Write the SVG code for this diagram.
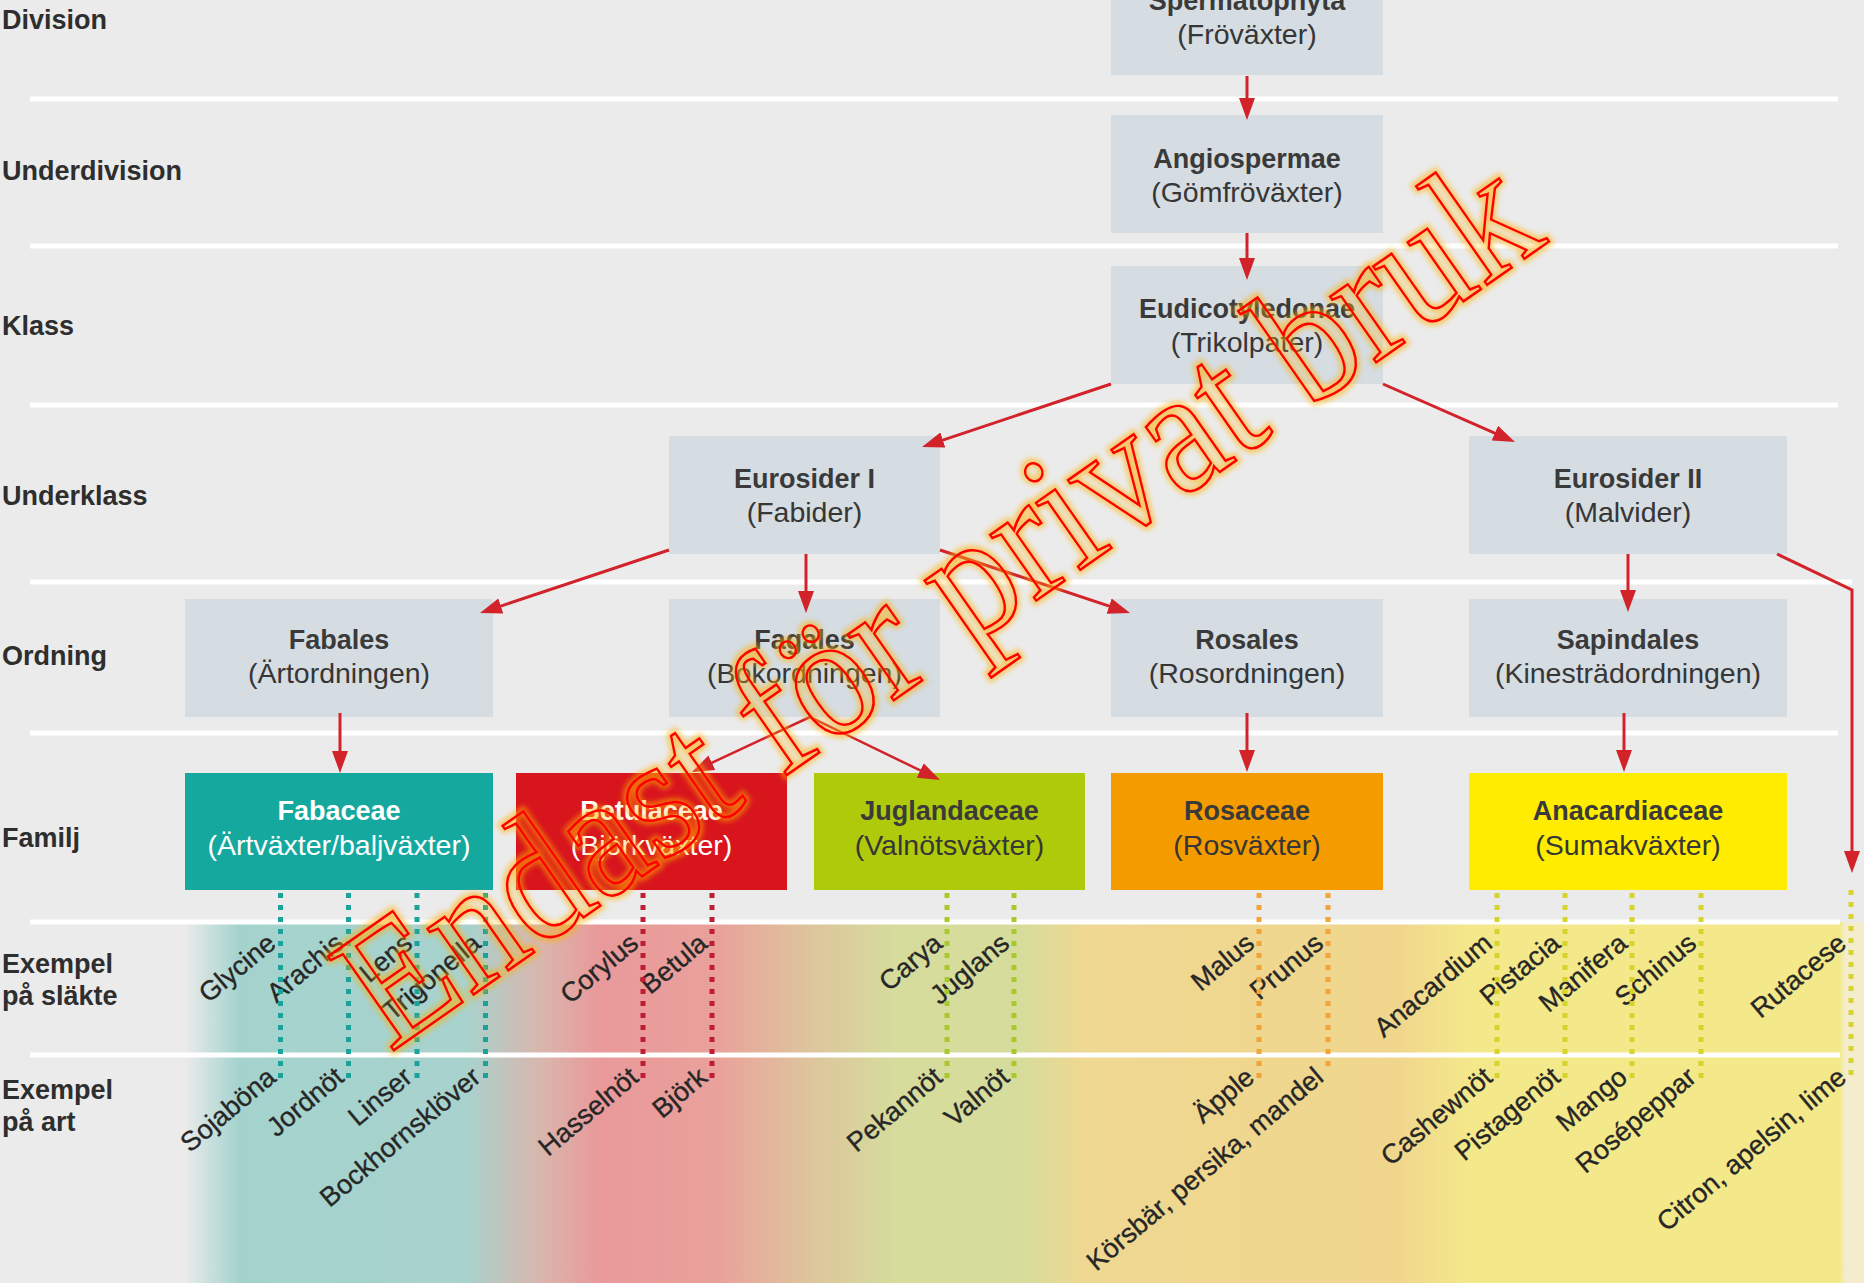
<svg xmlns="http://www.w3.org/2000/svg" width="1864" height="1283" viewBox="0 0 1864 1283">
<defs>
<style>
.lvl{font-family:"Liberation Sans",Arial,sans-serif;font-weight:bold;font-size:27px;fill:#2e2e2e}
.t1{font-family:"Liberation Sans",Arial,sans-serif;font-weight:bold;font-size:27px;fill:#3a3a3a;text-anchor:middle}
.t2{font-family:"Liberation Sans",Arial,sans-serif;font-size:28.5px;fill:#363636;text-anchor:middle}
.w{fill:#ffffff}
.box{fill:#d5dce2}
.sp{font-family:"Liberation Sans",Arial,sans-serif;font-size:27px;fill:#262626;stroke:#262626;stroke-width:0.35;text-anchor:end}
.arr{stroke:#d2232a;stroke-width:3;fill:none;marker-end:url(#ah)}
.dot{stroke-width:5;stroke-dasharray:5 7;fill:none}
.wl{stroke:#ffffff;stroke-width:5}
.wm{font-family:"Liberation Serif","Times New Roman",serif;font-size:175px;fill:none}
</style>
<linearGradient id="band" gradientUnits="userSpaceOnUse" x1="0" y1="0" x2="1864" y2="0">
<stop offset="0.099" stop-color="#ebebeb"/>
<stop offset="0.128" stop-color="#a4d3ce"/>
<stop offset="0.25" stop-color="#a8d2cd"/>
<stop offset="0.29" stop-color="#d9b6ad"/>
<stop offset="0.322" stop-color="#e9999a"/>
<stop offset="0.385" stop-color="#e9a19b"/>
<stop offset="0.43" stop-color="#dfc29d"/>
<stop offset="0.48" stop-color="#d5dc9c"/>
<stop offset="0.545" stop-color="#d5dc9c"/>
<stop offset="0.582" stop-color="#efd892"/>
<stop offset="0.75" stop-color="#f0d68d"/>
<stop offset="0.79" stop-color="#f4e98a"/>
<stop offset="0.987" stop-color="#f4e98a"/>
<stop offset="0.99" stop-color="#f3edce"/>
<stop offset="1" stop-color="#f3edce"/>
</linearGradient>
<marker id="ah" markerUnits="userSpaceOnUse" markerWidth="22" markerHeight="16" viewBox="0 0 22 16" refX="16" refY="8" orient="auto">
<path d="M0,0 L22,8 L0,16 z" fill="#d2232a"/>
</marker>
<filter id="glow" x="-10%" y="-10%" width="120%" height="120%">
<feGaussianBlur stdDeviation="2.5"/>
</filter>
</defs>

<rect x="0" y="0" width="1864" height="1283" fill="#ebebeb"/>
<rect x="0" y="922" width="1864" height="361" fill="url(#band)"/>

<g id="rules">
<line class="wl" x1="30" y1="99" x2="1838" y2="99"/>
<line class="wl" x1="30" y1="246" x2="1838" y2="246"/>
<line class="wl" x1="30" y1="405" x2="1838" y2="405"/>
<line class="wl" x1="30" y1="582" x2="1852" y2="582"/>
<line class="wl" x1="30" y1="733" x2="1838" y2="733"/>
<line class="wl" x1="30" y1="922" x2="1840" y2="922"/>
<line class="wl" x1="30" y1="1055" x2="1840" y2="1055"/>
</g>

<g id="levels">
<text class="lvl" x="2" y="29">Division</text>
<text class="lvl" x="2" y="180">Underdivision</text>
<text class="lvl" x="2" y="335">Klass</text>
<text class="lvl" x="2" y="505">Underklass</text>
<text class="lvl" x="2" y="665">Ordning</text>
<text class="lvl" x="2" y="847">Familj</text>
<text class="lvl" x="2" y="973">Exempel</text>
<text class="lvl" x="2" y="1005">på släkte</text>
<text class="lvl" x="2" y="1099">Exempel</text>
<text class="lvl" x="2" y="1131">på art</text>
</g>

<g id="n-spermatophyta">
<rect class="box" x="1111" y="-45" width="272" height="120"/>
<text class="t1" x="1247" y="10">Spermatophyta</text>
<text class="t2" x="1247" y="44">(Fröväxter)</text>
</g>
<g id="n-angiospermae">
<rect class="box" x="1111" y="115" width="272" height="118"/>
<text class="t1" x="1247" y="168">Angiospermae</text>
<text class="t2" x="1247" y="202">(Gömfröväxter)</text>
</g>
<g id="n-eudicotyledonae">
<rect class="box" x="1111" y="266" width="272" height="118"/>
<text class="t1" x="1247" y="318">Eudicotyledonae</text>
<text class="t2" x="1247" y="352">(Trikolpater)</text>
</g>
<g id="n-eurosider1">
<rect class="box" x="669" y="436" width="271" height="118"/>
<text class="t1" x="804.5" y="488">Eurosider I</text>
<text class="t2" x="804.5" y="522">(Fabider)</text>
</g>
<g id="n-eurosider2">
<rect class="box" x="1469" y="436" width="318" height="118"/>
<text class="t1" x="1628" y="488">Eurosider II</text>
<text class="t2" x="1628" y="522">(Malvider)</text>
</g>
<g id="n-fabales">
<rect class="box" x="185" y="599" width="308" height="118"/>
<text class="t1" x="339" y="649">Fabales</text>
<text class="t2" x="339" y="683">(Ärtordningen)</text>
</g>
<g id="n-fagales">
<rect class="box" x="669" y="599" width="271" height="118"/>
<text class="t1" x="804.5" y="649">Fagales</text>
<text class="t2" x="804.5" y="683">(Bokordningen)</text>
</g>
<g id="n-rosales">
<rect class="box" x="1111" y="599" width="272" height="118"/>
<text class="t1" x="1247" y="649">Rosales</text>
<text class="t2" x="1247" y="683">(Rosordningen)</text>
</g>
<g id="n-sapindales">
<rect class="box" x="1469" y="599" width="318" height="118"/>
<text class="t1" x="1628" y="649">Sapindales</text>
<text class="t2" x="1628" y="683">(Kinesträdordningen)</text>
</g>
<g id="n-fabaceae">
<rect x="185" y="773" width="308" height="117" fill="#14a89e"/>
<text class="t1 w" x="339" y="820">Fabaceae</text>
<text class="t2 w" x="339" y="855">(Ärtväxter/baljväxter)</text>
</g>
<g id="n-betulaceae">
<rect x="516" y="773" width="271" height="117" fill="#d8141c"/>
<text class="t1 w" x="651.5" y="820">Betulaceae</text>
<text class="t2 w" x="651.5" y="855">(Björkväxter)</text>
</g>
<g id="n-juglandaceae">
<rect x="814" y="773" width="271" height="117" fill="#afca0b"/>
<text class="t1" x="949.5" y="820">Juglandaceae</text>
<text class="t2" x="949.5" y="855">(Valnötsväxter)</text>
</g>
<g id="n-rosaceae">
<rect x="1111" y="773" width="272" height="117" fill="#f49b00"/>
<text class="t1" x="1247" y="820">Rosaceae</text>
<text class="t2" x="1247" y="855">(Rosväxter)</text>
</g>
<g id="n-anacardiaceae">
<rect x="1469" y="773" width="318" height="117" fill="#ffec00"/>
<text class="t1" x="1628" y="820">Anacardiaceae</text>
<text class="t2" x="1628" y="855">(Sumakväxter)</text>
</g>

<g id="examples">
<text class="sp" transform="translate(277.5,946) rotate(-40)">Glycine</text>
<text class="sp" transform="translate(345.5,946) rotate(-40)">Arachis</text>
<text class="sp" transform="translate(414,946) rotate(-40)">Lens</text>
<text class="sp" transform="translate(482.5,946) rotate(-40)">Trigonella</text>
<text class="sp" transform="translate(640,946) rotate(-40)">Corylus</text>
<text class="sp" transform="translate(709,946) rotate(-40)">Betula</text>
<text class="sp" transform="translate(944,946) rotate(-40)">Carya</text>
<text class="sp" transform="translate(1011,946) rotate(-40)">Juglans</text>
<text class="sp" transform="translate(1256,946) rotate(-40)">Malus</text>
<text class="sp" transform="translate(1325,946) rotate(-40)">Prunus</text>
<text class="sp" transform="translate(1494,946) rotate(-40)">Anacardium</text>
<text class="sp" transform="translate(1562,946) rotate(-40)">Pistacia</text>
<text class="sp" transform="translate(1629,946) rotate(-40)">Manifera</text>
<text class="sp" transform="translate(1698,946) rotate(-40)">Schinus</text>
<text class="sp" transform="translate(1848,946) rotate(-40)">Rutacese</text>

<text class="sp" transform="translate(277.5,1080) rotate(-40)">Sojaböna</text>
<text class="sp" transform="translate(345.5,1080) rotate(-40)">Jordnöt</text>
<text class="sp" transform="translate(414,1080) rotate(-40)">Linser</text>
<text class="sp" transform="translate(482.5,1080) rotate(-40)">Bockhornsklöver</text>
<text class="sp" transform="translate(640,1080) rotate(-40)">Hasselnöt</text>
<text class="sp" transform="translate(709,1080) rotate(-40)">Björk</text>
<text class="sp" transform="translate(944,1080) rotate(-40)">Pekannöt</text>
<text class="sp" transform="translate(1011,1080) rotate(-40)">Valnöt</text>
<text class="sp" transform="translate(1256,1080) rotate(-40)">Äpple</text>
<text class="sp" transform="translate(1325,1080) rotate(-40)">Körsbär, persika, mandel</text>
<text class="sp" transform="translate(1494,1080) rotate(-40)">Cashewnöt</text>
<text class="sp" transform="translate(1562,1080) rotate(-40)">Pistagenöt</text>
<text class="sp" transform="translate(1629,1080) rotate(-40)">Mango</text>
<text class="sp" transform="translate(1698,1080) rotate(-40)">Rosépeppar</text>
<text class="sp" transform="translate(1848,1080) rotate(-40)">Citron, apelsin, lime</text>
</g>

<g id="connectors">
<path class="arr" d="M1247,76 V114"/>
<path class="arr" d="M1247,233 V274"/>
<path class="arr" d="M1111,384 L927.7,445.1"/>
<path class="arr" d="M1383,384 L1509.5,439.6"/>
<path class="arr" d="M669,550 L485.7,611.1"/>
<path class="arr" d="M806,554 V607"/>
<path class="arr" d="M940,550 L1124.3,611.1"/>
<path class="arr" d="M1628,554 V606"/>
<path class="arr" d="M340,713 V767"/>
<path class="arr" style="stroke-width:2.5" d="M810,717 L697.4,769.5"/>
<path class="arr" style="stroke-width:2.5" d="M810,717 L934.6,777.4"/>
<path class="arr" d="M1247,713 V766"/>
<path class="arr" d="M1624,713 V766"/>
<path class="arr" d="M1777,554 L1852,590 V867"/>

<g stroke="#1aa39a">
<path class="dot" d="M280.5,893 V1080"/>
<path class="dot" d="M348.5,893 V1080"/>
<path class="dot" d="M417,893 V1080"/>
<path class="dot" d="M485.5,893 V1080"/>
</g>
<g stroke="#c01d34">
<path class="dot" d="M643,893 V1080"/>
<path class="dot" d="M712,893 V1080"/>
</g>
<g stroke="#a9c82a">
<path class="dot" d="M947,893 V1078"/>
<path class="dot" d="M1014,893 V1078"/>
</g>
<g stroke="#f0a43a">
<path class="dot" d="M1259,893 V1080"/>
<path class="dot" d="M1328,893 V1072"/>
</g>
<g stroke="#d6d42a">
<path class="dot" d="M1497,893 V1080"/>
<path class="dot" d="M1565,893 V1080"/>
<path class="dot" d="M1632,893 V1080"/>
<path class="dot" d="M1701,893 V1080"/>
<path class="dot" d="M1851,890 V1075"/>
</g>
</g>

<g id="watermark" transform="translate(390,1053) rotate(-35)">
<text class="wm" x="0" y="0" textLength="1415" lengthAdjust="spacingAndGlyphs" stroke="#ffae00" stroke-width="9" stroke-opacity="0.55" filter="url(#glow)">Endast för privat bruk</text>
<text class="wm" x="0" y="0" textLength="1415" lengthAdjust="spacingAndGlyphs" stroke="#ff0000" stroke-width="2.5">Endast för privat bruk</text>
</g>
</svg>
